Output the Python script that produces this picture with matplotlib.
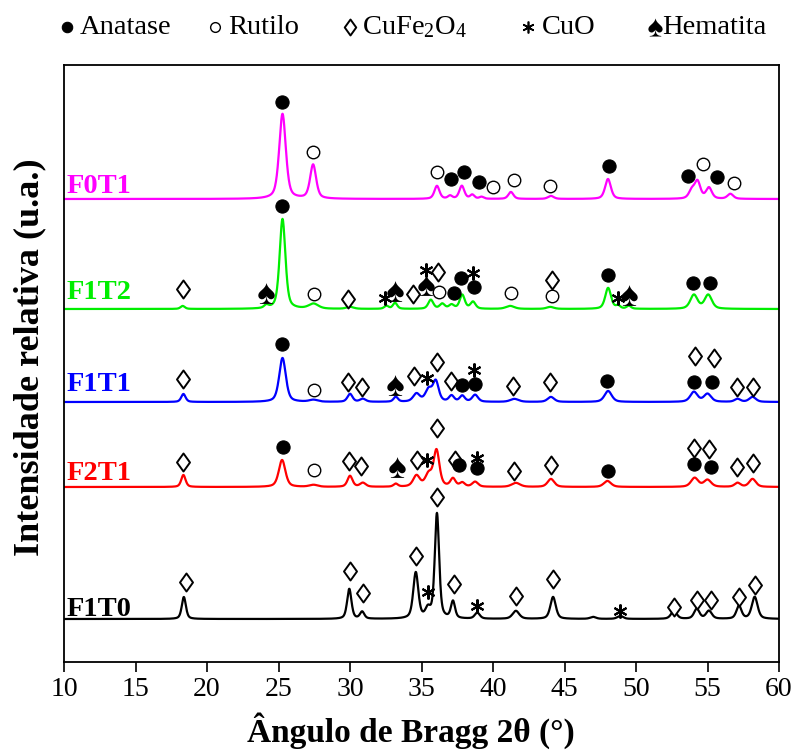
import numpy as np
import matplotlib
matplotlib.use('Agg')
import matplotlib.pyplot as plt
from matplotlib.path import Path
from matplotlib.lines import Line2D

plt.rcParams['font.family'] = ['Liberation Serif', 'DejaVu Sans']
plt.rcParams['mathtext.fontset'] = 'custom'
plt.rcParams['mathtext.rm'] = 'Liberation Serif'
plt.rcParams['mathtext.it'] = 'Liberation Serif:italic'
plt.rcParams['mathtext.bf'] = 'Liberation Serif:bold'

# ---------------- data ----------------
samples = ['F0T1', 'F1T2', 'F1T1', 'F2T1', 'F1T0']
colors = ['#ff00ff', '#00ee00', '#0000ff', '#ff0000', '#000000']
baselines = [463, 353, 260, 175, 43]
label_y = [469, 363, 271, 182, 46]

f0t1_pos = [25.28, 27.42, 36.08, 37.0, 37.82, 38.55, 39.2, 41.25, 44.05, 48.04, 53.9, 54.3, 55.1, 56.6]
f0t1_h = [85, 34, 13, 3, 13, 4, 2, 7, 3, 20, 8, 17, 11, 5]
f0t1_w = [0.55, 0.5, 0.42, 0.36, 0.42, 0.36, 0.36, 0.42, 0.48, 0.48, 0.48, 0.48, 0.48, 0.48]

f1t2_pos = [18.3, 24.15, 25.28, 27.45, 30.0, 32.55, 33.15, 35.65, 36.45, 37.1, 37.85, 38.6, 41.2, 44.0, 48.05, 48.75, 49.5, 54.05, 55.05]
f1t2_h = [3, 3, 90, 5, 2, 3, 6, 9, 5, 4, 14, 7, 3, 2, 21, 3, 3, 14, 14]
f1t2_w = [0.36, 0.36, 0.48, 0.8, 0.6, 0.36, 0.36, 0.42, 0.42, 0.42, 0.42, 0.42, 0.7, 0.6, 0.48, 0.36, 0.36, 0.6, 0.6]

f1t1_pos = [18.35, 25.28, 27.45, 30.0, 30.9, 33.2, 34.65, 35.5, 36.0, 37.1, 37.85, 38.75, 41.5, 44.05, 48.05, 54.05, 55.0, 57.1, 58.15]
f1t1_h = [8, 44, 2, 8, 3, 5, 8, 12, 20, 6, 6, 7, 3, 5, 11, 10, 8, 3, 5]
f1t1_w = [0.36, 0.55, 0.7, 0.42, 0.48, 0.36, 0.55, 0.55, 0.48, 0.42, 0.42, 0.48, 0.7, 0.55, 0.6, 0.6, 0.6, 0.48, 0.55]

f2t1_pos = [18.35, 25.25, 27.45, 30.0, 30.9, 33.2, 34.65, 35.5, 36.05, 37.2, 37.85, 38.75, 41.6, 44.05, 48.0, 54.1, 55.0, 57.1, 58.15]
f2t1_h = [12, 27, 2, 11, 4, 3, 11, 12, 36, 8, 4, 5, 4, 8, 6, 9, 7, 4, 8]
f2t1_w = [0.36, 0.55, 0.7, 0.42, 0.48, 0.36, 0.55, 0.55, 0.48, 0.42, 0.42, 0.48, 0.7, 0.55, 0.6, 0.6, 0.6, 0.48, 0.55]

f1t0_pos = [18.38, 29.95, 30.85, 34.6, 35.45, 36.08, 37.2, 38.9, 41.6, 44.2, 47.0, 48.9, 52.65, 54.25, 55.1, 57.2, 58.3]
f1t0_h = [22, 30, 7, 46, 9, 105, 17, 6, 8, 22, 2, 3, 8, 10, 8, 13, 22]
f1t0_w = [0.34, 0.36, 0.36, 0.42, 0.42, 0.36, 0.34, 0.42, 0.55, 0.45, 0.48, 0.48, 0.48, 0.45, 0.48, 0.42, 0.48]

peak_pos = [f0t1_pos, f1t2_pos, f1t1_pos, f2t1_pos, f1t0_pos]
peak_h = [f0t1_h, f1t2_h, f1t1_h, f2t1_h, f1t0_h]
peak_w = [f0t1_w, f1t2_w, f1t1_w, f2t1_w, f1t0_w]

# phase marks: A anatase, R rutilo, D CuFe2O4, C CuO, H hematita  (2theta, height)
f0t1_marks = [('A', 25.24, 560), ('R', 27.41, 510), ('R', 36.08, 490), ('A', 37.06, 483),
              ('A', 37.97, 490), ('A', 39.02, 480), ('R', 40.0, 475), ('R', 41.47, 482),
              ('R', 43.99, 476), ('A', 48.11, 496), ('A', 53.64, 486), ('R', 54.69, 498),
              ('A', 55.66, 485), ('R', 56.85, 479)]
f1t2_marks = [('D', 18.32, 373), ('H', 24.13, 369), ('A', 25.24, 456), ('R', 27.48, 368),
              ('D', 29.86, 363), ('C', 32.45, 364), ('H', 33.15, 371), ('D', 34.41, 368),
              ('C', 35.31, 392), ('H', 35.31, 377), ('D', 36.15, 390), ('R', 36.22, 370),
              ('A', 37.27, 369), ('A', 37.76, 384), ('C', 38.6, 389), ('A', 38.67, 375),
              ('R', 41.26, 369), ('D', 44.13, 382), ('R', 44.13, 366), ('A', 48.04, 387),
              ('C', 48.74, 364), ('H', 49.51, 367), ('A', 53.99, 379), ('A', 55.17, 379)]
f1t1_marks = [('D', 18.32, 283), ('A', 25.24, 318), ('R', 27.48, 272), ('D', 29.86, 280),
              ('D', 30.84, 275), ('H', 33.15, 277), ('D', 34.48, 286), ('C', 35.38, 284),
              ('D', 36.08, 300), ('D', 37.06, 281), ('A', 37.83, 277), ('C', 38.67, 292),
              ('A', 38.74, 278), ('D', 41.4, 276), ('D', 43.99, 280), ('A', 47.97, 281),
              ('D', 54.13, 306), ('D', 55.45, 304), ('A', 54.06, 280), ('A', 55.31, 280),
              ('D', 57.06, 275), ('D', 58.18, 275)]
f2t1_marks = [('D', 18.32, 200), ('A', 25.31, 215), ('R', 27.48, 192), ('D', 29.93, 201),
              ('D', 30.77, 196), ('H', 33.29, 195), ('D', 34.69, 202), ('C', 35.38, 202),
              ('D', 36.08, 234), ('D', 37.34, 202), ('A', 37.62, 197), ('C', 38.88, 204),
              ('A', 38.88, 194), ('D', 41.47, 191), ('D', 44.06, 197), ('A', 48.04, 191),
              ('D', 54.06, 214), ('D', 55.1, 213), ('A', 54.06, 198), ('A', 55.24, 195),
              ('D', 57.06, 195), ('D', 58.18, 199)]
f1t0_marks = [('D', 18.53, 80), ('D', 30.0, 91), ('D', 30.91, 69), ('D', 34.62, 106),
              ('C', 35.45, 70), ('D', 36.08, 165), ('D', 37.27, 78), ('C', 38.88, 56),
              ('D', 41.61, 66), ('D', 44.2, 83), ('C', 48.88, 51), ('D', 52.66, 55),
              ('D', 54.27, 62), ('D', 55.24, 62), ('D', 57.2, 65), ('D', 58.32, 77)]
all_marks = [f0t1_marks, f1t2_marks, f1t1_marks, f2t1_marks, f1t0_marks]

x_ticks = [10, 15, 20, 25, 30, 35, 40, 45, 50, 55, 60]

# ---------------- figure ----------------
W, H = 795, 753
fig = plt.figure(figsize=(W / 100, H / 100), dpi=100)
ax = fig.add_axes([64 / W, 91 / H, 715 / W, 597 / H])

two_theta = np.arange(10, 60.001, 0.02)


def pv(x, c, h, w):
    d = (x - c) / w
    return h * (0.5 * np.exp(-4 * np.log(2) * d ** 2) + 0.5 / (1 + 4 * d ** 2))


for name, col, base, pos, hs, ws in zip(samples, colors, baselines, peak_pos, peak_h, peak_w):
    y = np.full_like(two_theta, float(base))
    for c, h, w in zip(pos, hs, ws):
        y += pv(two_theta, c, h, w)
    ax.plot(two_theta, y, color=col, lw=1.6, zorder=2)

for name, col, ly in zip(samples, colors, label_y):
    ax.text(10.15, ly, name, color=col, fontsize=20.5, fontweight='bold', va='baseline', ha='left')

diamond = Path([(0, 1), (0.72, 0), (0, -1), (-0.72, 0), (0, 1)],
               [Path.MOVETO, Path.LINETO, Path.LINETO, Path.LINETO, Path.CLOSEPOLY])

styles = {
    'A': dict(marker='o', ms=9.5, mfc='black', mec='black', mew=0.8),
    'R': dict(marker='o', ms=9, mfc='white', mec='black', mew=1.0),
    'D': dict(marker=diamond, ms=13, mfc='white', mec='black', mew=1.4),
    'C': dict(marker=(6, 2, 0), ms=10, mec='black', mew=1.5),
    'H': dict(marker=r'$\spadesuit$', ms=15, mfc='black', mec='black', mew=0),
}

for marks in all_marks:
    for ph, xx, yy in marks:
        ax.plot([xx], [yy], ls='none', zorder=3, clip_on=False, **styles[ph])

ax.set_xlim(10, 60)
ax.set_ylim(0, 597)
ax.set_xticks(x_ticks)
ax.set_xticklabels([str(t) for t in x_ticks], fontsize=20)
ax.set_yticks([])
ax.tick_params(axis='x', direction='out', length=7.5, width=1.2, pad=3, top=False)
for s in ax.spines.values():
    s.set_linewidth(1.3)

fig.text(411 / W, (H - 742) / H, 'Ângulo de Bragg 2θ (°)', fontsize=24, fontweight='bold',
         ha='center', va='baseline')
fig.text(30 / W, (H - 357) / H, 'Intensidade relativa (u.a.)', fontsize=26, fontweight='bold',
         ha='center', va='center', rotation=90)

# top legend
leg_y = (H - 27) / H
base_y = (H - 34) / H
leg_syms = [('A', 67, 7.5), ('R', 215, 7), ('D', 350, 11.5), ('C', 528, 8.5), ('H', 655, 13)]
leg_txt = [('Anatase', 80), ('Rutilo', 228), (r'CuFe$_2$O$_4$', 362), ('CuO', 542), ('Hematita', 662)]
for ph, px, ms in leg_syms:
    st = dict(styles[ph])
    st['ms'] = ms
    if ph == 'C':
        st['mew'] = 1.2
    fig.add_artist(Line2D([px / W], [leg_y], transform=fig.transFigure, ls='none', **st))
for txt, px in leg_txt:
    fig.text(px / W, base_y, txt, fontsize=20.5, ha='left', va='baseline')

fig.savefig('out.png', dpi=100)
